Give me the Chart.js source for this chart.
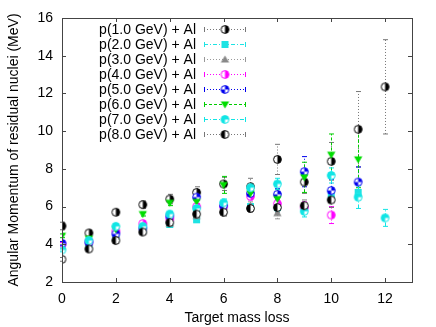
<!DOCTYPE html>
<html>
<head>
<meta charset="utf-8">
<script src="https://cdn.jsdelivr.net/npm/chart.js@4.4.1/dist/chart.umd.min.js"></script>
<style>
  html, body { margin: 0; padding: 0; background: #fff; }
  #wrap { width: 436px; height: 327px; }
</style>
</head>
<body>
<div id="wrap"><canvas id="momChart" width="436" height="327"></canvas></div>
<script>
    // target mass loss (x) and tick labels
    const massLoss = [0, 1, 2, 3, 4, 5, 6, 7, 8, 9, 10, 11, 12];
    const xTicks = [0, 2, 4, 6, 8, 10, 12];
    const yTicks = [2, 4, 6, 8, 10, 12, 14, 16];

    const labels = ['p(1.0 GeV) + Al', 'p(2.0 GeV) + Al', 'p(3.0 GeV) + Al', 'p(4.0 GeV) + Al',
                    'p(5.0 GeV) + Al', 'p(6.0 GeV) + Al', 'p(7.0 GeV) + Al', 'p(8.0 GeV) + Al'];

    // angular momentum (MeV) and errors
    const mom1 = [4.97, 4.6, 5.7, 6.1, 6.4, 6.75, 7.2, 7.05, 8.5, 7.3, 8.4, 10.1, 12.35];
    const err1 = [0.2, 0.15, 0.15, 0.2, 0.25, 0.3, 0.35, 0.45, 0.8, 0.6, 1.0, 2.0, 2.5];
    const mom2 = [3.8, 4.0, 4.35, 4.75, 5.05, 5.3, 6.0, 6.0, 5.95, 5.8, 6.6, 6.75, null];
    const err2 = [0.1, 0.1, 0.1, 0.1, 0.1, 0.1, 0.15, 0.15, 0.2, 0.2, 0.3, 0.4, null];
    const mom3 = [3.9, 4.1, 4.5, 4.7, 5.1, 5.5, 6.0, 6.05, 5.65, null, null, null, null];
    const err3 = [0.1, 0.1, 0.1, 0.1, 0.15, 0.15, 0.2, 0.2, 0.3, null, null, null, null];
    const mom4 = [4.0, 4.15, 4.7, 5.1, 5.35, 6.0, 6.0, 6.55, 6.15, 5.95, 5.55, null, null];
    const err4 = [0.1, 0.1, 0.1, 0.1, 0.15, 0.15, 0.2, 0.2, 0.25, 0.3, 0.45, null, null];
    const mom5 = [4.05, 4.1, 4.55, 4.85, 5.5, 6.5, 6.05, 6.7, 6.65, 7.85, 6.85, 7.3, null];
    const err5 = [0.1, 0.1, 0.1, 0.1, 0.15, 0.15, 0.2, 0.2, 0.3, 0.8, 0.6, 0.8, null];
    const mom6 = [4.45, 4.3, 4.8, 5.6, 6.2, 6.25, 7.15, 6.7, 6.4, 7.55, 8.75, 8.5, null];
    const err6 = [0.1, 0.1, 0.1, 0.1, 0.15, 0.2, 0.45, 0.3, 0.5, 0.8, 1.1, 1.5, null];
    const mom7 = [3.7, 4.2, 4.95, 4.95, 5.6, 5.9, 6.2, 7.0, 7.2, 5.75, 7.65, 6.5, 5.4];
    const err7 = [0.1, 0.1, 0.1, 0.1, 0.15, 0.15, 0.2, 0.2, 0.3, 0.3, 0.4, 0.6, 0.45];
    const mom8 = [3.2, 3.75, 4.2, 4.65, 5.15, 5.6, 5.7, 5.9, 5.95, 6.05, 6.35, null, null];
    const err8 = [0.1, 0.1, 0.1, 0.1, 0.15, 0.15, 0.2, 0.2, 0.25, 0.3, 0.4, null, null];

    const FONT = 'Liberation Sans, Arial, sans-serif';

    // small canvases used as point styles (gnuplot-like symbols)
    function marker(kind, color) {
      const c = document.createElement('canvas');
      c.width = 11; c.height = 11;
      const g = c.getContext('2d');
      const m = 5.5, r = 3.9, P = Math.PI;
      g.fillStyle = color;
      g.strokeStyle = color;
      g.lineWidth = 1;
      function wedge(a0, a1, col) {
        g.beginPath(); g.moveTo(m, m); g.arc(m, m, r, a0, a1); g.closePath();
        g.fillStyle = col; g.fill();
      }
      function ring() {
        g.beginPath(); g.arc(m, m, r, 0, 2 * P); g.strokeStyle = color; g.stroke();
      }
      if (kind === 'halfR' || kind === 'halfL' || kind === 'quarter' || kind === 'threeq') {
        g.beginPath(); g.arc(m, m, r, 0, 2 * P); g.fillStyle = '#fff'; g.fill();
        if (kind === 'halfR') wedge(-P / 2, P / 2, color);
        if (kind === 'halfL') wedge(P / 2, 3 * P / 2, color);
        if (kind === 'quarter') { wedge(-P / 2, 0, color); wedge(P / 2, P, color); }
        if (kind === 'threeq') wedge(P / 2, 2 * P, color);
        ring();
      } else if (kind === 'square') {
        g.fillRect(m - 3.5, m - 3.5, 7, 7);
      } else if (kind === 'up') {
        g.beginPath(); g.moveTo(m, m - 4); g.lineTo(m + 4.2, m + 3); g.lineTo(m - 4.2, m + 3); g.closePath(); g.fill();
      } else if (kind === 'down') {
        g.beginPath(); g.moveTo(m, m + 4); g.lineTo(m + 4.2, m - 3); g.lineTo(m - 4.2, m - 3); g.closePath(); g.fill();
      }
      return c;
    }

    const series = [
      { mom: mom1, err: err1, kind: 'halfR', color: '#000000', line: '#777777', dash: [1, 2] },
      { mom: mom2, err: err2, kind: 'square', color: '#1ee3e3', line: '#1ee3e3', dash: [4, 2, 1, 2] },
      { mom: mom3, err: err3, kind: 'up', color: '#888888', line: '#999999', dash: [1, 2] },
      { mom: mom4, err: err4, kind: 'halfR', color: '#ff00ff', line: '#ff00ff', dash: [1, 2] },
      { mom: mom5, err: err5, kind: 'quarter', color: '#0000ee', line: '#0000ee', dash: [1, 2] },
      { mom: mom6, err: err6, kind: 'down', color: '#00dd00', line: '#00cc00', dash: [3, 2] },
      { mom: mom7, err: err7, kind: 'threeq', color: '#11e5e5', line: '#11e5e5', dash: [4, 2, 1, 2] },
      { mom: mom8, err: err8, kind: 'halfL', color: '#000000', line: '#777777', dash: [1, 2] }
    ];

    series.forEach(s => { s.img = marker(s.kind, s.color); });

    const datasets = series.map((s, i) => ({
      label: labels[i],
      data: massLoss.map((x, j) => s.mom[j] == null ? null : { x: x, y: s.mom[j] }).filter(p => p),
      errs: massLoss.map((x, j) => s.err[j]).filter((e, j) => s.mom[j] != null),
      pointStyle: s.img,
      pointRadius: 4,
      showLine: false,
      order: 10 - i
    }));

    // error bars, box, inward ticks and the gnuplot style key
    const gnuplotBits = {
      id: 'gnuplotBits',
      beforeDatasetsDraw(chart) {
        const ctx = chart.ctx, xs = chart.scales.x, ys = chart.scales.y;
        ctx.save();
        chart.data.datasets.forEach((ds, i) => {
          const s = series[i];
          ctx.strokeStyle = s.line;
          ctx.lineWidth = 1;
          ds.data.forEach((p, j) => {
            const e = ds.errs[j];
            if (!e) return;
            const px = Math.round(xs.getPixelForValue(p.x)) + 0.5;
            const y0 = ys.getPixelForValue(p.y - e), y1 = ys.getPixelForValue(p.y + e);
            ctx.setLineDash(s.dash);
            ctx.beginPath(); ctx.moveTo(px, y0); ctx.lineTo(px, y1); ctx.stroke();
            ctx.setLineDash([]);
            ctx.beginPath();
            ctx.moveTo(px - 2.5, y0); ctx.lineTo(px + 2.5, y0);
            ctx.moveTo(px - 2.5, y1); ctx.lineTo(px + 2.5, y1);
            ctx.stroke();
          });
        });
        ctx.restore();
      },
      afterDraw(chart) {
        const ctx = chart.ctx, a = chart.chartArea, xs = chart.scales.x, ys = chart.scales.y;
        ctx.save();
        ctx.strokeStyle = '#444';
        ctx.lineWidth = 1;
        ctx.strokeRect(Math.round(a.left) + 0.5, Math.round(a.top) + 0.5,
                       Math.round(a.right - a.left), Math.round(a.bottom - a.top));
        ctx.beginPath();
        xTicks.forEach(v => {
          const px = Math.round(xs.getPixelForValue(v)) + 0.5;
          ctx.moveTo(px, a.bottom); ctx.lineTo(px, a.bottom - 4);
          ctx.moveTo(px, a.top); ctx.lineTo(px, a.top + 4);
        });
        yTicks.forEach(v => {
          const py = Math.round(ys.getPixelForValue(v)) + 0.5;
          ctx.moveTo(a.left, py); ctx.lineTo(a.left + 4, py);
          ctx.moveTo(a.right, py); ctx.lineTo(a.right - 4, py);
        });
        ctx.stroke();

        // key
        ctx.font = '14px ' + FONT;
        ctx.textAlign = 'right';
        ctx.textBaseline = 'middle';
        series.forEach((s, i) => {
          const y = 29.5 + 15 * i;
          ctx.fillStyle = '#000';
          ctx.fillText(labels[i], 196, y + 1);
          ctx.strokeStyle = s.line;
          ctx.setLineDash(s.dash);
          ctx.beginPath(); ctx.moveTo(204, y); ctx.lineTo(246, y); ctx.stroke();
          ctx.setLineDash([]);
          ctx.beginPath();
          ctx.moveTo(204.5, y - 2.5); ctx.lineTo(204.5, y + 2.5);
          ctx.moveTo(245.5, y - 2.5); ctx.lineTo(245.5, y + 2.5);
          ctx.stroke();
          ctx.drawImage(s.img, 225 - s.img.width / 2, y - s.img.height / 2);
        });
        ctx.restore();
      }
    };

    const ctx = document.getElementById('momChart').getContext('2d');
    const chart = new Chart(ctx, {
      type: 'scatter',
      data: { datasets: datasets },
      options: {
        responsive: false,
        animation: false,
        events: [],
        layout: { padding: { left: 0, top: 18, right: 24, bottom: 0 } },
        plugins: { legend: { display: false }, tooltip: { enabled: false } },
        scales: {
          x: {
            type: 'linear', min: 0, max: 13,
            afterBuildTicks: s => { s.ticks = xTicks.map(v => ({ value: v })); },
            afterFit: s => { s.height = 45; },
            grid: { display: false, drawTicks: false },
            border: { display: false },
            ticks: { color: '#000', padding: 9, font: { family: FONT, size: 14 } },
            title: { display: true, text: 'Target mass loss', color: '#000', padding: 0,
                     font: { family: FONT, size: 14 } }
          },
          y: {
            type: 'linear', min: 2, max: 16,
            afterBuildTicks: s => { s.ticks = yTicks.map(v => ({ value: v })); },
            afterFit: s => { s.width = 62; },
            grid: { display: false, drawTicks: false },
            border: { display: false },
            ticks: { color: '#000', padding: 9, font: { family: FONT, size: 14 } },
            title: { display: true, text: 'Angular Momentum of residual nuclei (MeV)', color: '#000',
                     padding: 6, font: { family: FONT, size: 14 } }
          }
        }
      },
      plugins: [gnuplotBits]
    });
</script>
</body>
</html>
